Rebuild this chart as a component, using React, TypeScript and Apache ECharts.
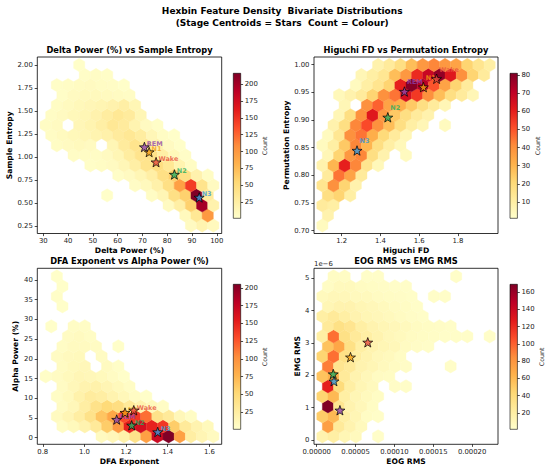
import React, { useEffect, useRef } from "react";
import * as echarts from "echarts";

// ---------- shared ----------
const STAGES = ["Wake", "N1", "N2", "N3", "REM"];
const STAGE_COLORS = ["#e74c3c", "#f39c12", "#27ae60", "#3498db", "#8e44ad"];
const YLORRD = ["#ffffcc", "#ffeda0", "#fed976", "#feb24c", "#fd8d3c", "#fc4e2a", "#e31a1c", "#bd0026", "#800026"];
const NX = 15;
const NY = 8;

// ---------- panel 1: Delta Power vs Sample Entropy ----------
const P1_EXTENT = [30.96, 98.6, 0.254, 2.004];
const P1_ROWS = [
  [0, 0, 0, 0, 0, 0, 0, 0, 0, 0, 0, 0, 0, 8, 18, 10],
  [0, 0, 0, 0, 0, 0, 0, 0, 0, 0, 0, 0, 10, 35, 100],
  [0, 0, 0, 0, 0, 0, 0, 0, 0, 0, 0, 8, 25, 60, 200, 20],
  [0, 0, 0, 0, 0, 3, 0, 0, 0, 6, 15, 45, 60, 216, 30],
  [0, 0, 0, 0, 0, 0, 0, 0, 5, 10, 22, 45, 95, 145, 40, 8],
  [0, 0, 0, 0, 0, 0, 4, 8, 15, 25, 45, 60, 45, 20, 6],
  [0, 0, 0, 0, 4, 6, 8, 14, 25, 40, 48, 35, 18, 6],
  [0, 0, 5, 6, 5, 8, 15, 28, 40, 42, 25, 12, 4],
  [0, 6, 8, 10, 8, 0, 15, 30, 40, 35, 20, 8, 3],
  [6, 9, 12, 15, 18, 22, 30, 35, 28, 14, 6, 3],
  [6, 8, 0, 14, 18, 25, 35, 30, 18, 8, 4],
  [5, 8, 12, 15, 20, 28, 35, 30, 15],
  [0, 6, 9, 12, 14, 16, 20, 25, 15],
  [0, 4, 8, 10, 10, 9, 7, 5],
  [0, 4, 5, 7, 8, 6, 5, 3],
  [0, 0, 0, 4, 5, 4],
  [0, 0, 0, 3],
];
const P1_STARS = [[75.5, 0.945], [72.7, 1.055], [82.9, 0.81], [92.9, 0.56], [70.8, 1.11]];
const P1_X_TICKS = [30, 40, 50, 60, 70, 80, 90, 100];
const P1_Y_TICKS = [0.25, 0.5, 0.75, 1.0, 1.25, 1.5, 1.75, 2.0];
const P1_CB_MAX = 216;
const P1_CB_TICKS = [25, 50, 75, 100, 125, 150, 175, 200];

// ---------- panel 2: Higuchi FD vs Permutation Entropy ----------
const P2_EXTENT = [1.1, 1.964, 0.7095, 0.9995];
const P2_ROWS = [
  [4],
  [8],
  [12, 10],
  [18, 22, 10],
  [15, 40, 22, 8],
  [12, 45, 35, 12],
  [8, 30, 60, 42, 15, 5],
  [6, 22, 38, 42, 18, 8, 0, 4],
  [4, 10, 25, 42, 30, 18, 10, 5],
  [4, 14, 40, 45, 32, 20, 12, 6],
  [0, 8, 18, 42, 52, 40, 28, 18, 10, 6, 0, 4],
  [0, 6, 18, 40, 62, 38, 25, 18, 12, 8],
  [0, 0, 6, 0, 40, 48, 35, 32, 25, 18, 12, 6],
  [0, 5, 8, 12, 22, 40, 45, 65, 55, 40, 28, 18, 12, 6],
  [0, 0, 0, 4, 10, 15, 22, 60, 80, 72, 50, 35, 22, 12],
  [0, 0, 0, 6, 10, 14, 28, 38, 58, 68, 78, 62, 40, 22, 12],
  [0, 0, 0, 0, 0, 8, 12, 18, 28, 38, 42, 38, 35, 22, 15, 10],
];
const P2_STARS = [[1.69, 0.9746], [1.622, 0.9596], [1.438, 0.905], [1.279, 0.845], [1.524, 0.9516]];
const P2_X_TICKS = [1.2, 1.4, 1.6, 1.8];
const P2_Y_TICKS = [0.7, 0.75, 0.8, 0.85, 0.9, 0.95, 1.0];
const P2_CB_MAX = 81;
const P2_CB_TICKS = [10, 20, 30, 40, 50, 60, 70, 80];

// ---------- panel 3: DFA Exponent vs Alpha Power ----------
const P3_EXTENT = [0.814, 1.619, 0.33, 40.94];
const P3_ROWS = [
  [0, 0, 0, 0, 0, 8, 12, 20, 40, 90, 170, 205, 90, 25, 15, 8],
  [0, 5, 10, 18, 30, 60, 95, 150, 165, 150, 140, 60, 30, 18, 10],
  [0, 8, 15, 25, 40, 65, 85, 130, 140, 115, 40, 30, 12, 5],
  [0, 6, 12, 25, 40, 50, 45, 30, 18, 10, 5],
  [0, 5, 10, 20, 28, 25, 18, 12, 6, 3],
  [0, 6, 12, 18, 20, 15, 10, 5],
  [4, 6, 10, 14, 12, 10, 6, 3],
  [0, 7, 10, 12, 0, 8, 4],
  [0, 6, 9, 10, 0, 6],
  [0, 5, 8, 8, 6, 0, 3],
  [0, 0, 6, 8, 5],
  [3, 0, 5, 5],
  [],
  [0, 3],
  [0, 4],
  [0, 3],
  [0, 3],
];
const P3_STARS = [[1.237, 6.94], [1.195, 6.35], [1.227, 3.13], [1.352, 1.43], [1.155, 4.58]];
const P3_X_TICKS = [0.8, 1.0, 1.2, 1.4, 1.6];
const P3_Y_TICKS = [0, 5, 10, 15, 20, 25, 30, 35, 40];
const P3_CB_MAX = 205;
const P3_CB_TICKS = [25, 50, 75, 100, 125, 150, 175, 200];

// ---------- panel 4: EOG RMS vs EMG RMS ----------
const P4_EXTENT = [0.73e-5, 22.25e-5, 0.115e-6, 5.06e-6];
const P4_ROWS = [
  [15, 20, 12, 8, 0, 3],
  [75, 25, 15, 8],
  [50, 60, 20, 12, 5, 3],
  [169, 30, 15, 10, 5],
  [45, 60, 20, 12, 8, 5],
  [125, 40, 20, 12, 8, 0, 4, 3],
  [55, 65, 25, 15, 10, 6, 5],
  [90, 30, 25, 15, 12, 8, 6, 4, 0, 0, 0, 3],
  [45, 95, 35, 20, 15, 10, 8, 5],
  [55, 70, 35, 20, 15, 12, 10, 6, 4, 3],
  [20, 95, 35, 25, 20, 15, 10, 8, 6, 5, 4, 3, 3, 3, 0, 3],
  [25, 35, 30, 20, 15, 12, 10, 8, 6, 5, 4, 3],
  [20, 25, 20, 15, 12, 10, 8, 6, 4, 3],
  [12, 15, 15, 12, 10, 8, 6, 5, 3],
  [8, 10, 10, 8, 8, 6, 5, 4, 3, 0, 3, 3],
  [5, 8, 8, 6, 5, 4, 3, 3],
  [0, 5, 5, 0, 3, 3, 0, 0, 0, 0, 0, 0, 3],
];
const P4_STARS = [[6.57e-5, 3.02e-6], [4.35e-5, 2.56e-6], [2.13e-5, 2.04e-6], [2.22e-5, 1.82e-6], [2.99e-5, 0.92e-6]];
const P4_X_TICKS = [0, 0.00005, 0.0001, 0.00015, 0.0002];
const P4_Y_TICKS = [0, 1e-6, 2e-6, 3e-6, 4e-6, 5e-6];
const P4_CB_MAX = 169;
const P4_CB_TICKS = [20, 40, 60, 80, 100, 120, 140, 160];

const SUPTITLE = ["Hexbin Feature Density  Bivariate Distributions", "(Stage Centroids = Stars  Count = Colour)"];

// ---------- layout ----------
const FONT = "DejaVu Sans";
const COL_LEFT = [37.3, 314];
const COL_W = [184.4, 184];
const ROW_TOP = [57, 268.3];
const ROW_H = [176.5, 176];
const CB_LEFT = [233.3, 510];
const CB_W = 7.4;
const CB_TOP = [73.3, 284.3];
const CB_H = 145;
const STAR_PATH =
  "path://M50,2L61.8,36.2L97.6,36.9L69,58.6L79.4,92.9L50,72.5L20.6,92.9L31,58.6L2.4,36.9L38.2,36.2Z";

const PANELS = [
  {
    title: "Delta Power (%) vs Sample Entropy", xName: "Delta Power (%)", yName: "Sample Entropy",
    extent: P1_EXTENT, rows: P1_ROWS, stars: P1_STARS, xTicks: P1_X_TICKS, yTicks: P1_Y_TICKS,
    cbMax: P1_CB_MAX, cbTicks: P1_CB_TICKS, xFmt: (v: number) => v.toFixed(0), yFmt: (v: number) => v.toFixed(2),
    labels: true, labelOffset: [2.5, -3.2], col: 0, row: 0, yNameGap: 24, cbNameGap: 19,
  },
  {
    title: "Higuchi FD vs Permutation Entropy", xName: "Higuchi FD", yName: "Permutation Entropy",
    extent: P2_EXTENT, rows: P2_ROWS, stars: P2_STARS, xTicks: P2_X_TICKS, yTicks: P2_Y_TICKS,
    cbMax: P2_CB_MAX, cbTicks: P2_CB_TICKS, xFmt: (v: number) => v.toFixed(1), yFmt: (v: number) => v.toFixed(2),
    labels: true, labelOffset: [2.5, -9], col: 1, row: 0, yNameGap: 23, cbNameGap: 16,
  },
  {
    title: "DFA Exponent vs Alpha Power (%)", xName: "DFA Exponent", yName: "Alpha Power (%)",
    extent: P3_EXTENT, rows: P3_ROWS, stars: P3_STARS, xTicks: P3_X_TICKS, yTicks: P3_Y_TICKS,
    cbMax: P3_CB_MAX, cbTicks: P3_CB_TICKS, xFmt: (v: number) => v.toFixed(1), yFmt: (v: number) => v.toFixed(0),
    labels: true, labelOffset: [3, -2.5], col: 0, row: 1, yNameGap: 18, cbNameGap: 19,
  },
  {
    title: "EOG RMS vs EMG RMS", xName: "EOG RMS", yName: "EMG RMS",
    extent: P4_EXTENT, rows: P4_ROWS, stars: P4_STARS, xTicks: P4_X_TICKS, yTicks: P4_Y_TICKS,
    cbMax: P4_CB_MAX, cbTicks: P4_CB_TICKS, xFmt: (v: number) => v.toFixed(5), yFmt: (v: number) => (v * 1e6).toFixed(0),
    labels: false, labelOffset: [0, 0], col: 1, row: 1, yNameGap: 12, cbNameGap: 19,
  },
];

function hexCells(rows: number[][], ext: number[]) {
  const [x0, x1, y0, y1] = ext;
  const sx = (x1 - x0) / NX;
  const sy = (y1 - y0) / NY;
  const cells: number[][] = [];
  rows.forEach((row, r) =>
    row.forEach((c, i) => {
      if (c > 0) cells.push([x0 + (i + (r % 2) * 0.5) * sx, y0 + (r * sy) / 2, c]);
    })
  );
  return { cells, sx, sy };
}

function buildOption() {
  const grid: any[] = [];
  const xAxis: any[] = [];
  const yAxis: any[] = [];
  const series: any[] = [];
  const visualMap: any[] = [];
  const graphic: any[] = [];

  const tickStyle = { lineStyle: { color: "#000", width: 0.7 } };
  const labelStyle = { fontSize: 6.9, color: "#222", fontFamily: FONT };

  SUPTITLE.forEach((t, i) =>
    graphic.push({
      type: "text", x: 282.2, y: 10.7 + i * 12.6, silent: true,
      style: { text: t, fontSize: 9, fontWeight: "bold", fontFamily: FONT, fill: "#000", align: "center", verticalAlign: "middle" },
    })
  );

  PANELS.forEach((p, k) => {
    const L = COL_LEFT[p.col], T = ROW_TOP[p.row], W = COL_W[p.col], H = ROW_H[p.row];
    const [x0, x1, y0, y1] = p.extent;
    const mx = (x1 - x0) * 0.05, my = (y1 - y0) * 0.05;

    grid[k] = { left: L, top: T, width: W, height: H, show: true, borderColor: "#000", borderWidth: 0.8, backgroundColor: "transparent", z: 6 };
    grid[4 + k] = { left: CB_LEFT[p.col], top: CB_TOP[p.row], width: CB_W, height: CB_H, show: false };

    xAxis[k] = {
      gridIndex: k, type: "value", min: x0 - mx, max: x1 + mx,
      axisLine: { show: false, onZero: false },
      axisTick: { show: true, length: 2.6, customValues: p.xTicks, ...tickStyle },
      axisLabel: { customValues: p.xTicks, formatter: p.xFmt, margin: 4, ...labelStyle },
      splitLine: { show: false },
      name: p.xName, nameLocation: "middle", nameGap: 13,
      nameTextStyle: { fontSize: 7.6, fontWeight: "bold", color: "#000", fontFamily: FONT },
    };
    yAxis[k] = {
      gridIndex: k, type: "value", min: y0 - my, max: y1 + my,
      axisLine: { show: false, onZero: false },
      axisTick: { show: true, length: 2.6, customValues: p.yTicks, ...tickStyle },
      axisLabel: { customValues: p.yTicks, formatter: p.yFmt, margin: 4.5, ...labelStyle },
      splitLine: { show: false },
      name: p.yName, nameLocation: "middle", nameRotate: 90, nameGap: p.yNameGap,
      nameTextStyle: { fontSize: 7.6, fontWeight: "bold", color: "#000", fontFamily: FONT },
    };
    xAxis[4 + k] = { gridIndex: 4 + k, type: "value", min: 0, max: 1, show: false };
    yAxis[4 + k] = {
      gridIndex: 4 + k, type: "value", min: 1, max: p.cbMax, position: "right",
      axisLine: { show: false, onZero: false },
      axisTick: { show: true, length: 2.4, customValues: p.cbTicks, ...tickStyle },
      axisLabel: { customValues: p.cbTicks, margin: 4, ...labelStyle },
      splitLine: { show: false },
      name: "Count", nameLocation: "middle", nameRotate: 90, nameGap: p.cbNameGap,
      nameTextStyle: { fontSize: 6.3, color: "#333", fontFamily: FONT },
    };

    const { cells, sx, sy } = hexCells(p.rows, p.extent);
    const hexIdx = series.length;
    series.push({
      type: "custom", xAxisIndex: k, yAxisIndex: k, data: cells, encode: { x: 0, y: 1 },
      silent: true, clip: true, z: 2,
      renderItem: (_params: any, api: any) => {
        const cx = api.value(0), cy = api.value(1);
        const hx = sx / 2, hy = sy / 6, ty = sy / 3;
        const pts = [
          [cx + hx, cy - hy], [cx + hx, cy + hy], [cx, cy + ty],
          [cx - hx, cy + hy], [cx - hx, cy - hy], [cx, cy - ty],
        ].map((pt) => api.coord(pt));
        const color = api.visual("color");
        return { type: "polygon", shape: { points: pts }, style: { fill: color, stroke: color, lineWidth: 0.4 } };
      },
    });
    visualMap.push({
      type: "continuous", show: false, seriesIndex: hexIdx, dimension: 2,
      min: 1, max: p.cbMax, inRange: { color: YLORRD },
    });

    if (p.labels) {
      series.push({
        type: "scatter", xAxisIndex: k, yAxisIndex: k, symbolSize: 0.1, silent: true, z: 3,
        itemStyle: { color: "transparent" },
        label: {
          show: true, position: p.labelOffset, align: "left", verticalAlign: "middle",
          fontSize: 6.5, fontWeight: "bold", fontFamily: FONT,
        },
        data: p.stars.map((s, i) => ({ value: s, label: { formatter: STAGES[i], color: STAGE_COLORS[i] } })),
      });
    }
    series.push({
      type: "scatter", xAxisIndex: k, yAxisIndex: k, symbol: STAR_PATH, symbolSize: 10, symbolKeepAspect: true,
      silent: true, z: 4,
      itemStyle: { borderColor: "#000", borderWidth: 0.9 },
      data: p.stars.map((s, i) => ({ value: s, itemStyle: { color: STAGE_COLORS[i] } })),
    });

    series.push({
      type: "custom", xAxisIndex: 4 + k, yAxisIndex: 4 + k, data: [[0.5, 1]], silent: true, clip: false,
      renderItem: (params: any) => {
        const cs = params.coordSys;
        return {
          type: "rect",
          shape: { x: cs.x, y: cs.y, width: cs.width, height: cs.height },
          style: {
            fill: new echarts.graphic.LinearGradient(0, 1, 0, 0,
              YLORRD.map((c, i) => ({ offset: i / (YLORRD.length - 1), color: c }))),
            stroke: "#000", lineWidth: 0.6,
          },
        };
      },
    });

    graphic.push({
      type: "text", x: L + W / 2, y: T - 7, silent: true,
      style: { text: p.title, fontSize: 8.3, fontWeight: "bold", fontFamily: FONT, fill: "#000", align: "center", verticalAlign: "middle" },
    });
  });

  graphic.push({
    type: "text", x: COL_LEFT[1], y: ROW_TOP[1] - 4.3, silent: true,
    style: { text: "1e\u22126", fontSize: 6.9, fontFamily: FONT, fill: "#222", align: "left", verticalAlign: "middle" },
  });

  return {
    animation: false,
    backgroundColor: "#fff",
    textStyle: { fontFamily: FONT },
    grid, xAxis, yAxis, series, visualMap, graphic,
  };
}

export default function App() {
  const ref = useRef<HTMLDivElement>(null);
  useEffect(() => {
    if (!ref.current) return;
    const chart = echarts.init(ref.current, null, { renderer: "svg" });
    chart.setOption(buildOption() as any);
    return () => chart.dispose();
  }, []);
  return <div ref={ref} style={{ position: "fixed", left: 0, top: 0, width: 550, height: 472, background: "#fff" }} />;
}
